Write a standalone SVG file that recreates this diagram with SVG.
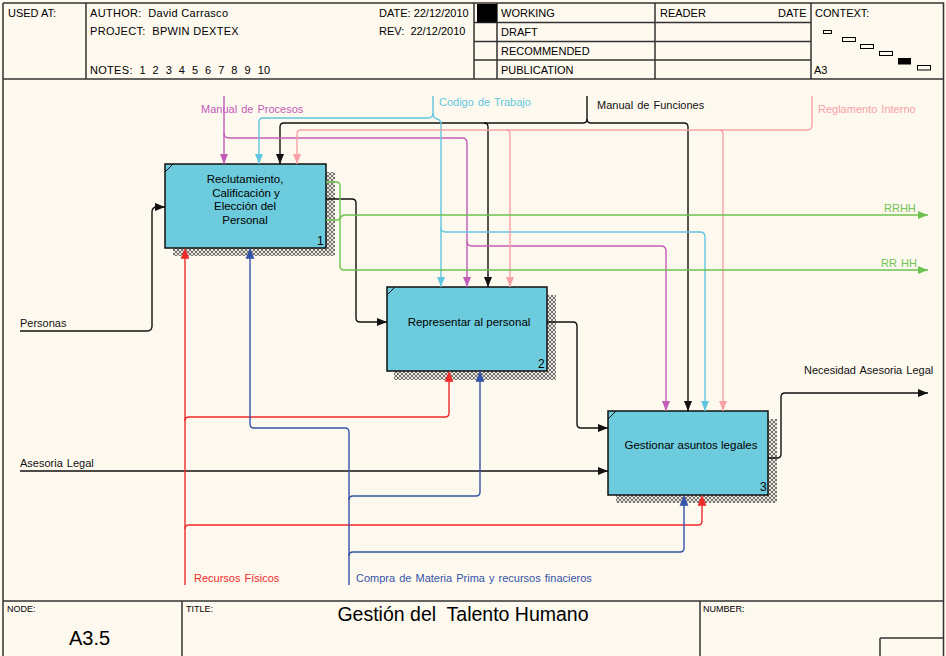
<svg xmlns="http://www.w3.org/2000/svg" width="946" height="656" viewBox="0 0 946 656">
<defs>
<style>
text { font-family: "Liberation Sans", Arial, sans-serif; white-space: pre; }
.h { font-size: 11px; fill: #000; }
.sm { font-size: 9px; fill: #000; }
.bt { font-size: 11.5px; fill: #000; text-anchor: middle; }
.num { font-size: 12px; fill: #000; }
.lbl { font-size: 11px; word-spacing: 1px; }
.frame { fill: none; stroke: #333; stroke-width: 1.5; }
.box { fill: #6CCBDC; stroke: #111; stroke-width: 1.5; }
.shadow { fill: url(#hatch); }
.c { fill: none; stroke-width: 1.4; }
.k { stroke: #111; }
.m { stroke: #C25CB8; }
.cy { stroke: #62C6E0; }
.p { stroke: #F7A1A6; }
.g { stroke: #6EC24F; }
.r { stroke: #EE2A2A; }
.b { stroke: #3553A8; }
.fr { fill: #EE2A2A; stroke: #EE2A2A; stroke-width: 0.6; }
.fb { fill: #3553A8; stroke: #3553A8; stroke-width: 0.6; }
.ctx { fill: none; stroke: #000; stroke-width: 1; }
</style>
<pattern id="hatch" width="4" height="4" patternUnits="userSpaceOnUse">
<rect width="4" height="4" fill="#ebe7dd"/>
<path d="M0,0 L4,4 M4,0 L0,4" stroke="#555" stroke-width="0.8"/>
</pattern>
<marker id="ak" viewBox="0 0 10 8" refX="10" refY="4" markerWidth="10" markerHeight="8" markerUnits="userSpaceOnUse" orient="auto"><path d="M0,0 L10,4 L0,8 Z" fill="#111"/></marker>
<marker id="am" viewBox="0 0 10 8" refX="10" refY="4" markerWidth="10" markerHeight="8" markerUnits="userSpaceOnUse" orient="auto"><path d="M0,0 L10,4 L0,8 Z" fill="#C25CB8"/></marker>
<marker id="acy" viewBox="0 0 10 8" refX="10" refY="4" markerWidth="10" markerHeight="8" markerUnits="userSpaceOnUse" orient="auto"><path d="M0,0 L10,4 L0,8 Z" fill="#62C6E0"/></marker>
<marker id="ap" viewBox="0 0 10 8" refX="10" refY="4" markerWidth="10" markerHeight="8" markerUnits="userSpaceOnUse" orient="auto"><path d="M0,0 L10,4 L0,8 Z" fill="#F7A1A6"/></marker>
<marker id="ag" viewBox="0 0 10 8" refX="10" refY="4" markerWidth="10" markerHeight="8" markerUnits="userSpaceOnUse" orient="auto"><path d="M0,0 L10,4 L0,8 Z" fill="#6EC24F"/></marker>
</defs>
<rect x="0" y="0" width="946" height="656" fill="#FEF9EF"/>

<g id="header">
<path class="frame" d="M3,3 H943.5 V656 M3,3 V656 M3,79 H943.5 M86,3 V79 M474,3 V79 M497,3 V79 M655,3 V79 M811,3 V79 M474,22.5 H811 M474,41.5 H811 M474,60 H811"/>
<rect x="477" y="4" width="20" height="18.5" fill="#000"/>
<text class="h" x="8" y="17">USED AT:</text>
<text class="h" x="90" y="17" style="letter-spacing:0.3px">AUTHOR:  David Carrasco</text>
<text class="h" x="90" y="35" style="letter-spacing:0.3px">PROJECT:  BPWIN DEXTEX</text>
<text class="h" x="90" y="74" style="letter-spacing:0.3px">NOTES:  1  2  3  4  5  6  7  8  9  10</text>
<text class="h" x="379" y="17">DATE: 22/12/2010</text>
<text class="h" x="379" y="35">REV:  22/12/2010</text>
<text class="h" x="501" y="17">WORKING</text>
<text class="h" x="501" y="36">DRAFT</text>
<text class="h" x="501" y="55">RECOMMENDED</text>
<text class="h" x="501" y="74">PUBLICATION</text>
<text class="h" x="660" y="17">READER</text>
<text class="h" x="778" y="17">DATE</text>
<text class="h" x="815" y="17">CONTEXT:</text>
<text class="h" x="814" y="74">A3</text>
<rect class="ctx" x="823.5" y="30.5" width="8" height="3"/>
<rect class="ctx" x="842.5" y="37.5" width="13" height="4"/>
<rect class="ctx" x="860.5" y="44.5" width="13" height="4"/>
<rect class="ctx" x="879.5" y="51.5" width="13" height="4"/>
<rect x="898" y="58" width="13" height="6.5" fill="#000"/>
<rect class="ctx" x="917.5" y="65.5" width="13" height="4.5"/>
</g>

<g id="footer">
<path class="frame" d="M3,601 H943.5 M182,601 V656 M700,601 V656 M880,638 H943.5 M880,638 V656"/>
<text class="sm" x="7" y="612">NODE:</text>
<text class="sm" x="186" y="612">TITLE:</text>
<text class="sm" x="703" y="612">NUMBER:</text>
<text x="69" y="645" style="font-size:20px">A3.5</text>
<text x="463" y="621" style="font-size:19.5px" text-anchor="middle">Gestión del  Talento Humano</text>
</g>

<g id="node1">
<path class="shadow" d="M326,172 H335 V256 H173 V248 H326 Z"/>
<rect class="box" x="165" y="164" width="161" height="84"/>
<path d="M165,172 L173,164" stroke="#111" stroke-width="1"/>
<text class="bt" x="245" y="183">Reclutamiento,</text>
<text class="bt" x="246" y="196.5">Calificación y</text>
<text class="bt" x="245" y="210">Elección del</text>
<text class="bt" x="245" y="223.5">Personal</text>
<text class="num" x="317" y="245">1</text>
</g>

<g id="node2">
<path class="shadow" d="M547,295 H556 V380 H394 V371 H547 Z"/>
<rect class="box" x="387" y="287" width="160" height="84"/>
<path d="M387,295 L395,287" stroke="#111" stroke-width="1"/>
<text class="bt" x="469" y="326">Representar al personal</text>
<text class="num" x="538" y="368">2</text>
</g>

<g id="node3">
<path class="shadow" d="M768,419 H777 V503 H616 V495 H768 Z"/>
<rect class="box" x="608" y="411" width="160" height="84"/>
<path d="M608,419 L616,411" stroke="#111" stroke-width="1"/>
<text class="bt" x="691" y="449">Gestionar asuntos legales</text>
<text class="num" x="760" y="491">3</text>
</g>

<g id="connectors">
<path class="c k" d="M587,96 V119 Q587,123 583,123 H284 Q280,123 280,127 V164" marker-end="url(#ak)"/>
<path class="c k" d="M587,119 Q587,123 591,123 H684 Q688,123 688,127 V411" marker-end="url(#ak)"/>
<path class="c k" d="M484,123 Q488,123 488,127 V287" marker-end="url(#ak)"/>
<path class="c k" d="M20,331 H147 Q152,331 152,326 V212 Q152,207 157,207 H165" marker-end="url(#ak)"/>
<path class="c k" d="M20,471 H608" marker-end="url(#ak)"/>
<path class="c k" d="M326,199 H352 Q356,199 356,203 V318 Q356,322 360,322 H387" marker-end="url(#ak)"/>
<path class="c k" d="M547,322 H573 Q577,322 577,326 V424 Q577,428 581,428 H608" marker-end="url(#ak)"/>
<path class="c k" d="M768,458 H777 Q781,458 781,454 V397 Q781,393 785,393 H928" marker-end="url(#ak)"/>

<path class="c m" d="M224,96 V164" marker-end="url(#am)"/>
<path class="c m" d="M224,133 Q224,138 229,138 H462 Q467,138 467,143 V287" marker-end="url(#am)"/>
<path class="c m" d="M467,241 Q467,246 472,246 H661 Q666,246 666,251 V411" marker-end="url(#am)"/>

<path class="c cy" d="M433,96 V113 Q433,118 428,118 H263 Q259,118 259,122 V164" marker-end="url(#acy)"/>
<path class="c cy" d="M433,113 Q433,118 437,119 Q441,120 441,124 V287" marker-end="url(#acy)"/>
<path class="c cy" d="M441,228 Q441,232 446,232 H700 Q705,232 705,237 V411" marker-end="url(#acy)"/>

<path class="c p" d="M812,96 V125 Q812,130 807,130 H301 Q297,130 297,134 V164" marker-end="url(#ap)"/>
<path class="c p" d="M506,130 Q510,130 510,134 V287" marker-end="url(#ap)"/>
<path class="c p" d="M719,130 Q723,130 723,134 V411" marker-end="url(#ap)"/>

<path class="c g" d="M326,220 H336 Q340,220 341,217 Q342,215 346,215 H928" marker-end="url(#ag)"/>
<path class="c g" d="M326,182 H336 Q340,182 340,186 V266 Q340,270 344,270 H928" marker-end="url(#ag)"/>

<path class="c r" d="M185,585 V255"/>
<path class="c r" d="M185,421 Q185,417 189,417 H445 Q449,417 449,413 V378"/>
<path class="c r" d="M185,529 Q185,525 189,525 H698 Q702,525 702,521 V502"/>
<path class="fr" d="M185,248.5 L189,258.5 L181,258.5 Z"/>
<path class="fr" d="M449,371.5 L453,381.5 L445,381.5 Z"/>
<path class="fr" d="M702,495.5 L706,505.5 L698,505.5 Z"/>

<path class="c b" d="M349,585 V432 Q349,428 345,428 H254 Q250,428 250,424 V255"/>
<path class="c b" d="M349,500 Q349,496 353,496 H476 Q480,496 480,492 V378"/>
<path class="c b" d="M349,556 Q349,552 353,552 H680 Q684,552 684,548 V502"/>
<path class="fb" d="M250,248.5 L254,258.5 L246,258.5 Z"/>
<path class="fb" d="M480,371.5 L484,381.5 L476,381.5 Z"/>
<path class="fb" d="M684,495.5 L688,505.5 L680,505.5 Z"/>

<text class="lbl" x="201" y="113" fill="#C25CB8">Manual de Procesos</text>
<text class="lbl" x="439" y="106" fill="#62C6E0">Codigo de Trabajo</text>
<text class="lbl" x="597" y="109" fill="#111">Manual de Funciones</text>
<text class="lbl" x="818" y="113" fill="#F7A1A6">Reglamento Interno</text>
<text class="lbl" x="884" y="212" fill="#6EC24F">RRHH</text>
<text class="lbl" x="881" y="267" fill="#6EC24F">RR HH</text>
<text class="lbl" x="804" y="374" fill="#111">Necesidad Asesoria Legal</text>
<text class="lbl" x="20" y="327" fill="#111">Personas</text>
<text class="lbl" x="20" y="467" fill="#111">Asesoria Legal</text>
<text class="lbl" x="194" y="582" fill="#EE2A2A">Recursos Físicos</text>
<text class="lbl" x="356" y="582" fill="#3553A8">Compra de Materia Prima y recursos finacieros</text>
</g>
</svg>
